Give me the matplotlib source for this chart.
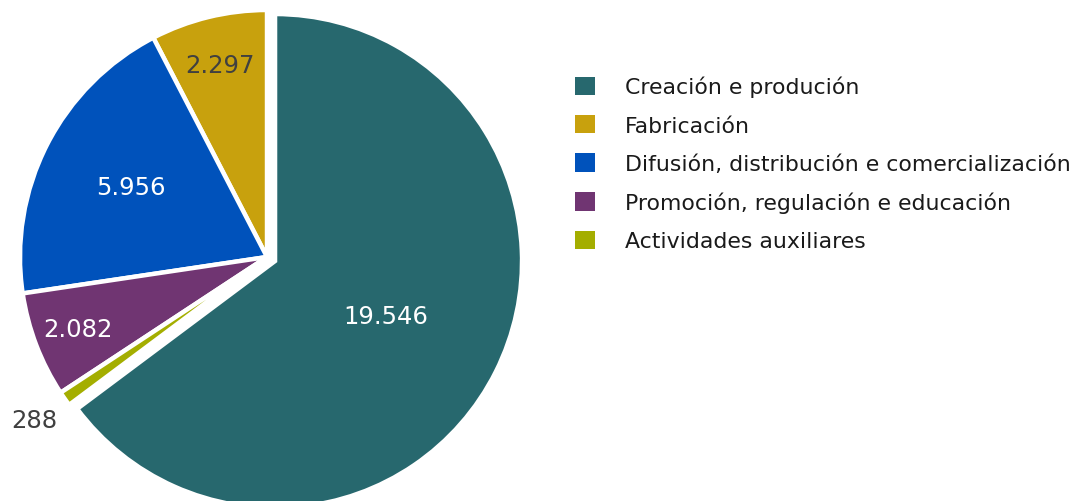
import matplotlib.pyplot as plt
from matplotlib.patches import Patch
import numpy as np

categorias = ['Creación e produción', 'Fabricación',
              'Difusión, distribución e comercialización',
              'Promoción, regulación e educación', 'Actividades auxiliares']
valores = [19546, 2297, 5956, 2082, 288]
etiquetas = ['19.546', '2.297', '5.956', '2.082', '288']

cores = ['#27686e', '#c8a10d', '#0052bb', '#703572', '#a4ae00']
cor_texto = ['white', '#404040', 'white', 'white', '#404040']
dist_texto = [0.5, 0.8, 0.62, 0.82, 1.15]

W, H = 1075, 502
fig = plt.figure(figsize=(W / 100, H / 100), dpi=100)
ax = fig.add_axes([0, 0, 1, 1])

cx, cy, r = 267, H - 258, 247
total = sum(valores)
inicio = 90 - 360 * valores[0] / total

wedges, _ = ax.pie(valores, colors=cores, startangle=inicio, counterclock=True,
                   center=(cx, cy), radius=r,
                   wedgeprops=dict(edgecolor='white', linewidth=3.2))

# slice out the first wedge a little
w0 = wedges[0]
m0 = np.deg2rad((w0.theta1 + w0.theta2) / 2)
w0.set_center((cx + 9 * np.cos(m0), cy + 9 * np.sin(m0)))

for w, lab, col, d in zip(wedges, etiquetas, cor_texto, dist_texto):
    ang = np.deg2rad((w.theta1 + w.theta2) / 2)
    x0, y0 = w.center
    ax.text(x0 + d * r * np.cos(ang), y0 + d * r * np.sin(ang), lab,
            ha='center', va='center', color=col, fontsize=17.5)

ax.set_xlim(0, W)
ax.set_ylim(0, H)
ax.set_aspect('equal')
ax.axis('off')

handles = [Patch(facecolor=c, edgecolor='none') for c in cores]
fig.legend(handles, categorias, loc='upper left', bbox_to_anchor=(575 / W, 1 - 77 / H),
           frameon=False, fontsize=15.8, handlelength=0.91, handleheight=0.91,
           handletextpad=1.37, labelspacing=0.8, borderpad=0, borderaxespad=0,
           labelcolor='#1a1a1a')

fig.savefig('out.png', dpi=100)
